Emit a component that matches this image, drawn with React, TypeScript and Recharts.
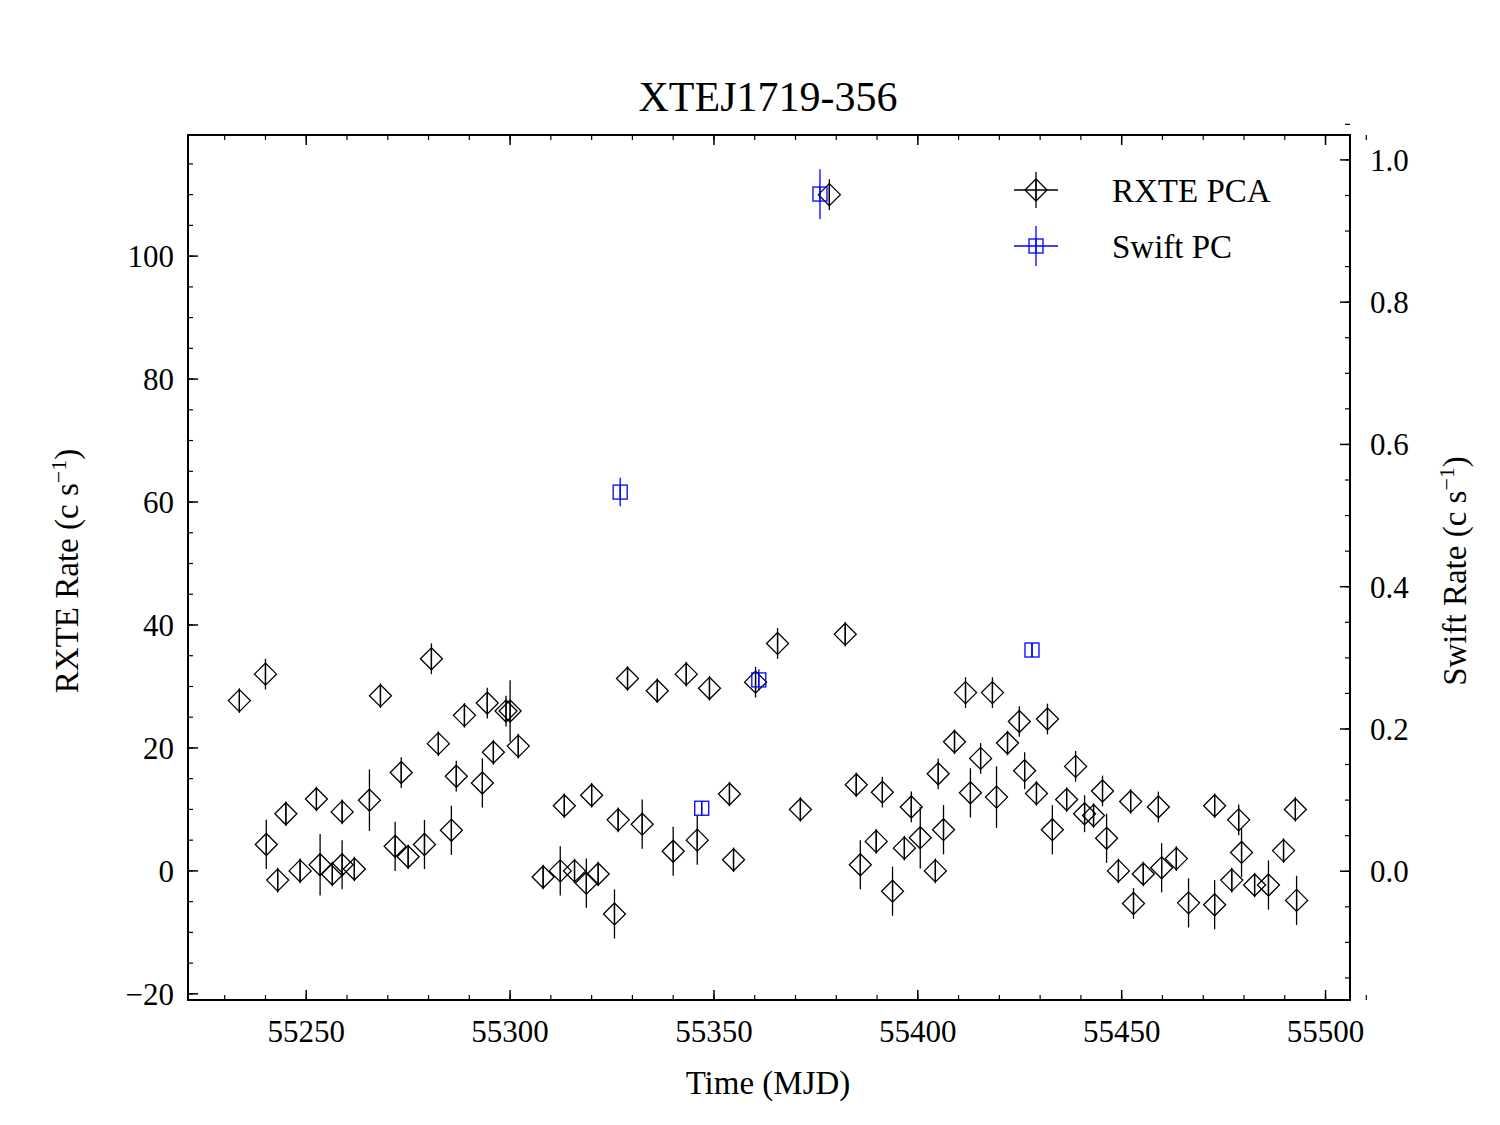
import React from 'react';
import { ComposedChart, Scatter, XAxis, YAxis, ErrorBar } from 'recharts';

// RXTE PCA light curve (MJD, rate, error)
const rxteTime = [55233.6, 55240, 55240.2, 55243, 55245, 55248.5, 55252.5, 55253.4, 55256.4, 55258.8, 55258.8, 55261.8, 55265.5, 55268.2, 55271.8, 55273.3, 55275, 55279, 55280.7, 55282.4, 55285.6, 55286.8, 55288.8, 55293.2, 55294.4, 55295.9, 55299, 55300, 55302, 55308.1, 55312.3, 55313.3, 55315.8, 55318.7, 55320, 55321.6, 55325.6, 55326.5, 55328.8, 55332.4, 55336.1, 55340, 55343.2, 55345.9, 55348.9, 55353.8, 55354.8, 55360.2, 55365.6, 55371.2, 55378.3, 55382.2, 55384.9, 55385.9, 55389.8, 55391.3, 55393.8, 55396.7, 55398.4, 55400.6, 55404.3, 55405, 55406.3, 55409, 55411.7, 55412.9, 55415.4, 55418.3, 55419.3, 55422, 55424.9, 55426.2, 55429.1, 55431.8, 55433, 55436.5, 55438.7, 55440.9, 55443.1, 55445.3, 55446.3, 55449.2, 55452.2, 55452.9, 55455.3, 55459, 55459.8, 55463.4, 55466.4, 55472.8, 55472.8, 55477, 55478.7, 55479.4, 55482.6, 55486, 55489.7, 55492.6, 55492.9];
const rxteRate = [27.7, 32, 4.3, -1.5, 9.3, 0, 11.7, 1, -0.5, 9.6, 1, 0.3, 11.5, 28.5, 4, 16, 2.3, 4.3, 34.5, 20.7, 6.6, 15.4, 25.3, 14.3, 27.3, 19.3, 26, 26, 20.3, -1, 0, 10.6, 0, -2, 12.3, -0.5, -7, 8.3, 31.3, 7.6, 29.3, 3.2, 32, 5, 29.7, 12.5, 1.8, 30.7, 37, 10, 110, 38.5, 14, 1, 4.8, 12.8, -3.3, 3.7, 10.4, 5.4, 0, 15.8, 6.7, 21, 29, 12.7, 18.3, 29, 12, 20.8, 24.3, 16.3, 12.6, 24.7, 6.7, 11.6, 17, 9.3, 9, 13, 5.3, 0, 11.3, -5.3, -0.5, 10.4, 0.5, 2, -5.2, 10.6, -5.5, -1.5, 8.3, 3, -2.3, -2.3, 3.3, 10, -4.8];
const rxteErr = [2, 2.5, 4, 2, 2, 2, 2, 5, 2, 2, 4, 2, 5, 2, 4, 2.5, 2, 4, 2.5, 2, 4, 2.5, 2, 4, 2.5, 2, 2.5, 5, 2, 2, 4, 2, 2, 4, 2, 2, 4, 2, 2, 4, 2, 4, 2, 4, 2, 2, 2, 2.5, 2.5, 2, 2.5, 2, 2, 4, 2, 2.5, 4, 2, 2.5, 5, 2, 2.5, 4, 2, 2.5, 4, 2.5, 2.5, 5, 2, 2.5, 3, 2, 2.5, 4, 2, 2.5, 3, 2, 2.5, 4, 2, 2, 2.5, 2, 2.5, 4, 2, 4, 2, 4, 2, 2.5, 4, 2, 4, 2, 2, 4];

// Swift PC points (right axis)
const swiftTime = [55327, 55347, 55361, 55376, 55428];
const swiftRate = [0.533, 0.0886, 0.269, 0.952, 0.311];
const swiftErr = [0.02, 0.01, 0.015, 0.035, 0.01];

const xTicks = [55250, 55300, 55350, 55400, 55450, 55500];
const xMinor = Array.from({ length: 29 }, (_, i) => 55230 + i * 10);
const leftTicks = [-20, 0, 20, 40, 60, 80, 100];
const leftMinor = Array.from({ length: 28 }, (_, i) => -20 + i * 5);
const rightTicks = [0, 0.2, 0.4, 0.6, 0.8, 1.0];
const rightMinor = Array.from({ length: 25 }, (_, i) => -0.15 + i * 0.05);

const rxteData = rxteTime.map((t, i) => ({ t, y: rxteRate[i], err: rxteErr[i] }));
const swiftData = swiftTime.map((t, i) => ({ t, y: swiftRate[i], err: swiftErr[i] }));

const X_DOM: [number, number] = [55221, 55506];
const L_DOM: [number, number] = [-21, 119.7];
const R_DOM: [number, number] = [-0.181, 1.035];

// plot box inside the chart svg
const PL = 180, PR = 1342, PT = 127, PB = 992;
const sx = (v: number) => PL + ((v - X_DOM[0]) / (X_DOM[1] - X_DOM[0])) * (PR - PL);
const syL = (v: number) => PB - ((v - L_DOM[0]) / (L_DOM[1] - L_DOM[0])) * (PB - PT);
const syR = (v: number) => PB - ((v - R_DOM[0]) / (R_DOM[1] - R_DOM[0])) * (PB - PT);

const FONT = 'Liberation Serif, Times New Roman, serif';
const tickStyle = { fontSize: 31, fill: '#000', fontFamily: FONT };

const Diamond = (props: any) => {
  const { cx, cy } = props;
  const s = 11;
  return (
    <g>
      <path d={`M${cx},${cy - s}L${cx + s},${cy}L${cx},${cy + s}L${cx - s},${cy}Z`} fill="none" stroke="#000" strokeWidth={1.3} />
      <line x1={cx} y1={cy - s} x2={cx} y2={cy + s} stroke="#000" strokeWidth={1.3} />
    </g>
  );
};

const Square = (props: any) => {
  const { cx, cy } = props;
  const s = 7;
  return (
    <g>
      <rect x={cx - s} y={cy - s} width={2 * s} height={2 * s} fill="none" stroke="#0000ff" strokeWidth={1.3} />
      <line x1={cx} y1={cy - s} x2={cx} y2={cy + s} stroke="#0000ff" strokeWidth={1.3} />
    </g>
  );
};

const App: React.FC = () => {
  return (
    <div style={{ position: 'relative', width: 1500, height: 1117, fontFamily: FONT }}>
      <ComposedChart width={1492} height={1117} margin={{ top: 127, right: 42, bottom: 75, left: 80 }}>
        <XAxis xAxisId={0} dataKey="t" type="number" domain={X_DOM} allowDataOverflow ticks={xTicks}
          tick={tickStyle} tickLine={false} axisLine={false} tickMargin={14} height={50} />
        <YAxis yAxisId="left" dataKey="y" type="number" domain={L_DOM} allowDataOverflow ticks={leftTicks}
          tick={tickStyle} tickLine={false} axisLine={false} tickMargin={8} width={100}
          tickFormatter={(v: number) => (v < 0 ? `\u2212${-v}` : `${v}`)} />
        <YAxis yAxisId="right" orientation="right" dataKey="y" type="number" domain={R_DOM} allowDataOverflow ticks={rightTicks}
          tick={{ ...tickStyle, textAnchor: 'start' }} tickLine={false} axisLine={false} tickMargin={14} width={108}
          tickFormatter={(v: number) => v.toFixed(1)} />
        <Scatter data={rxteData} xAxisId={0} yAxisId="left" dataKey="y" shape={Diamond} isAnimationActive={false}>
          <ErrorBar dataKey="err" direction="y" width={0} stroke="#000" strokeWidth={1.3} />
        </Scatter>
        <Scatter data={swiftData} xAxisId={0} yAxisId="right" dataKey="y" shape={Square} isAnimationActive={false}>
          <ErrorBar dataKey="err" direction="y" width={0} stroke="#0000ff" strokeWidth={1.3} />
        </Scatter>
      </ComposedChart>

      <svg width={1500} height={1117} style={{ position: 'absolute', left: 0, top: 0, pointerEvents: 'none' }}>
        {/* frame and inward ticks */}
        <rect x={PL} y={PT} width={PR - PL} height={PB - PT} fill="none" stroke="#000" strokeWidth={2} />
        {xTicks.map((v) => (
          <g key={`xt${v}`}>
            <line x1={sx(v)} x2={sx(v)} y1={PB} y2={PB - 10} stroke="#000" strokeWidth={1.5} />
            <line x1={sx(v)} x2={sx(v)} y1={PT} y2={PT + 10} stroke="#000" strokeWidth={1.5} />
          </g>
        ))}
        {xMinor.map((v) => (
          <g key={`xm${v}`}>
            <line x1={sx(v)} x2={sx(v)} y1={PB} y2={PB - 5} stroke="#000" strokeWidth={1.2} />
            <line x1={sx(v)} x2={sx(v)} y1={PT} y2={PT + 5} stroke="#000" strokeWidth={1.2} />
          </g>
        ))}
        {leftTicks.map((v) => (
          <line key={`lt${v}`} x1={PL} x2={PL + 10} y1={syL(v)} y2={syL(v)} stroke="#000" strokeWidth={1.5} />
        ))}
        {leftMinor.map((v) => (
          <line key={`lm${v}`} x1={PL} x2={PL + 5} y1={syL(v)} y2={syL(v)} stroke="#000" strokeWidth={1.2} />
        ))}
        {rightTicks.map((v) => (
          <line key={`rt${v}`} x1={PR} x2={PR - 10} y1={syR(v)} y2={syR(v)} stroke="#000" strokeWidth={1.5} />
        ))}
        {rightMinor.map((v) => (
          <line key={`rm${v}`} x1={PR} x2={PR - 5} y1={syR(v)} y2={syR(v)} stroke="#000" strokeWidth={1.2} />
        ))}

        <text x={760} y={103} textAnchor="middle" fontSize={42} fontFamily={FONT}>XTEJ1719-356</text>
        <text x={760} y={1086} textAnchor="middle" fontSize={33} fontFamily={FONT}>Time (MJD)</text>
        <text transform="translate(70,563) rotate(-90)" textAnchor="middle" fontSize={33} fontFamily={FONT}>
          RXTE Rate (c s<tspan dy={-12} fontSize={22}>−1</tspan><tspan dy={12}>)</tspan>
        </text>
        <text transform="translate(1458,563) rotate(-90)" textAnchor="middle" fontSize={33} fontFamily={FONT}>
          Swift Rate (c s<tspan dy={-12} fontSize={22}>−1</tspan><tspan dy={12}>)</tspan>
        </text>
        {/* legend */}
        <g transform="translate(1028,182)">
          <line x1={-22} y1={0} x2={22} y2={0} stroke="#000" strokeWidth={1.3} />
          <line x1={0} y1={-18} x2={0} y2={18} stroke="#000" strokeWidth={1.3} />
          <Diamond cx={0} cy={0} />
        </g>
        <text x={1104} y={194} fontSize={33} fontFamily={FONT}>RXTE PCA</text>
        <g transform="translate(1028,238)">
          <line x1={-22} y1={0} x2={22} y2={0} stroke="#0000ff" strokeWidth={1.3} />
          <line x1={0} y1={-20} x2={0} y2={20} stroke="#0000ff" strokeWidth={1.3} />
          <Square cx={0} cy={0} />
        </g>
        <text x={1104} y={250} fontSize={33} fontFamily={FONT}>Swift PC</text>
      </svg>
    </div>
  );
};

export default App;
